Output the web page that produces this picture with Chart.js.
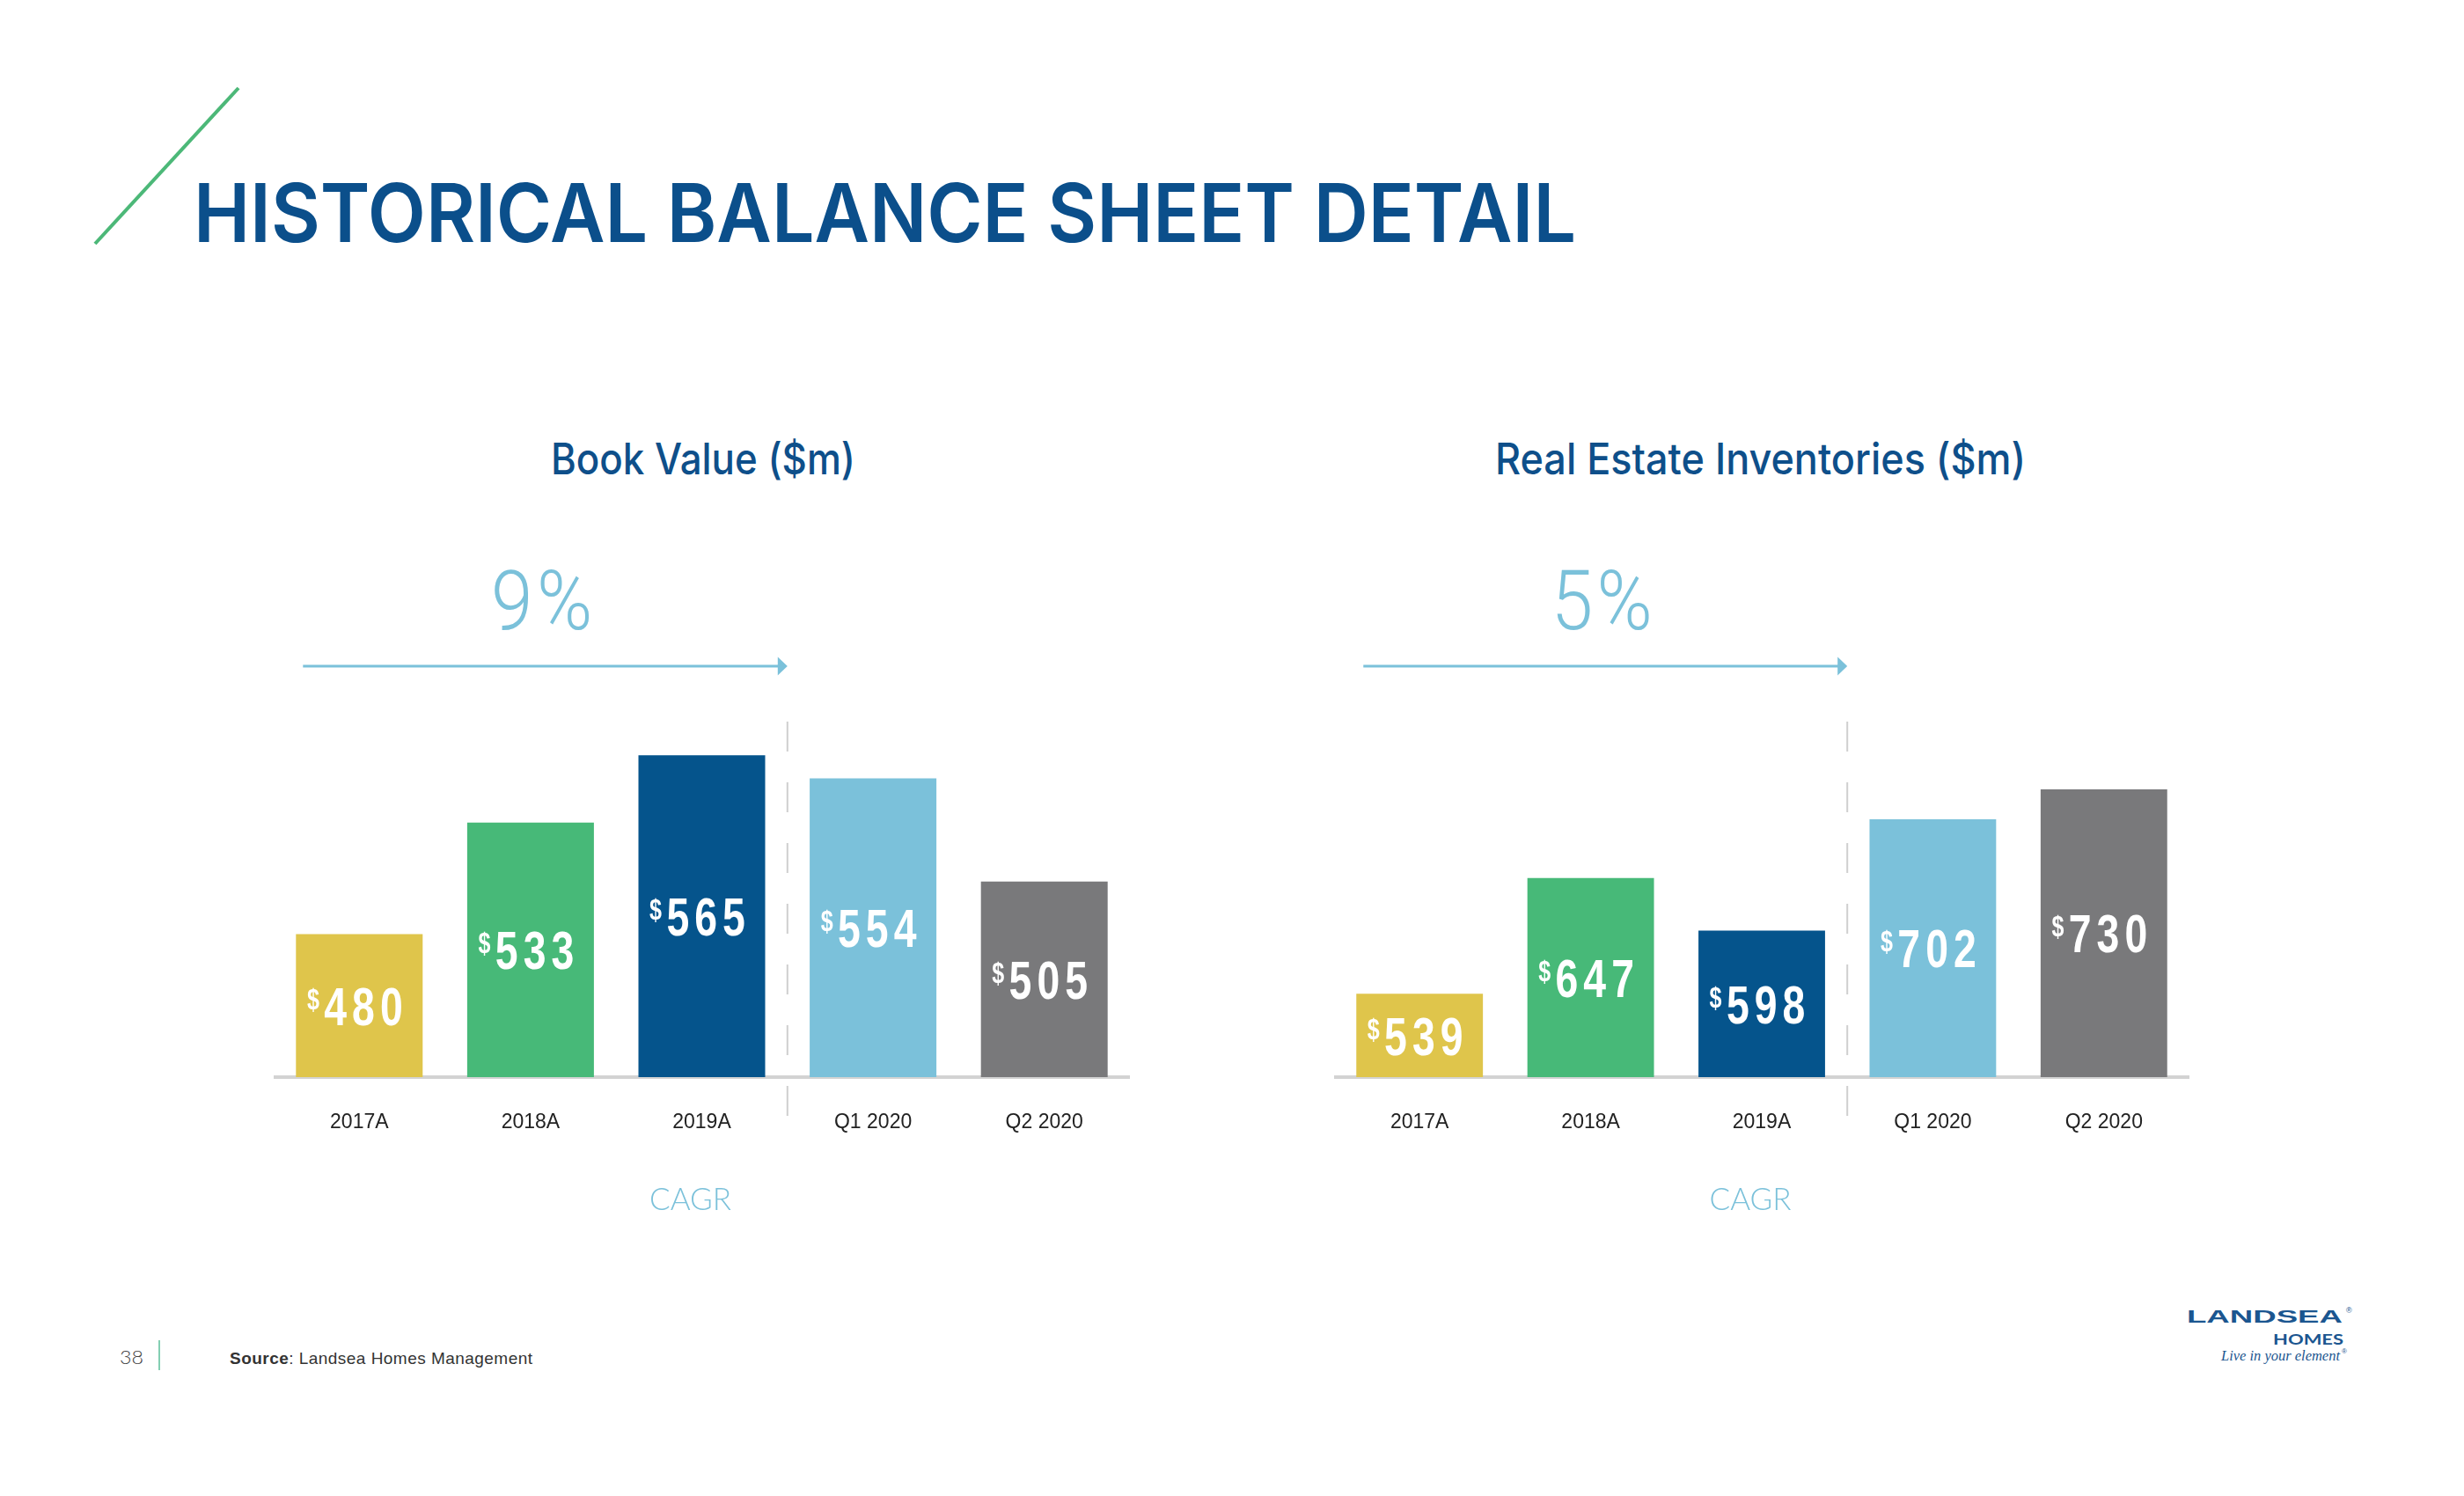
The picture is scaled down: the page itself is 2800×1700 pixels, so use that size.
<!DOCTYPE html>
<html><head><meta charset="utf-8">
<script src="https://cdn.jsdelivr.net/npm/chart.js@4/dist/chart.umd.min.js"></script>
<style>
html,body{margin:0;padding:0;background:#fff;}
#page{position:relative;width:2800px;height:1700px;background:#fff;overflow:hidden;}
#page svg{position:absolute;left:0;top:0;}
#page canvas{position:absolute;}
</style></head><body>
<div id="page">
<svg width="2800" height="1700" xmlns="http://www.w3.org/2000/svg">
  <line x1="108" y1="277" x2="271" y2="100" stroke="#4cb878" stroke-width="4"/>
  <text x="220" y="275" font-family="Inter" font-weight="600" font-size="92" fill="#0b4f8b" textLength="1571" lengthAdjust="spacingAndGlyphs">HISTORICAL BALANCE SHEET DETAIL</text>
  <text x="626" y="539" font-family="Inter" font-weight="500" font-size="49" fill="#0e4f8a" textLength="346" lengthAdjust="spacingAndGlyphs">Book Value ($m)</text>
  <text x="1699" y="539" font-family="Inter" font-weight="500" font-size="49" fill="#0e4f8a" textLength="603" lengthAdjust="spacingAndGlyphs">Real Estate Inventories ($m)</text>
  <text x="136" y="1550" font-family="Lato" font-weight="300" font-size="21" fill="#444" textLength="27" lengthAdjust="spacingAndGlyphs">38</text>
  <line x1="181" y1="1523" x2="181" y2="1557" stroke="#5bbf9a" stroke-width="1.5"/>
  <text x="261" y="1550" font-family="Liberation Sans" font-size="19" fill="#333" textLength="344" lengthAdjust="spacing"><tspan font-weight="700">Source</tspan>: Landsea Homes Management</text>
  <text x="2485" y="1503" font-family="Liberation Sans" font-weight="900" font-size="21" fill="#1b5690" textLength="177" lengthAdjust="spacingAndGlyphs">LANDSEA</text>
  <text x="2666" y="1492" font-family="Liberation Sans" font-size="9" fill="#1b5690">®</text>
  <text x="2583" y="1528" font-family="Lato" font-weight="700" font-size="17" fill="#1b5690" textLength="80" lengthAdjust="spacingAndGlyphs">HOMES</text>
  <text x="2524" y="1546" font-family="Liberation Serif" font-style="italic" font-size="17" fill="#1b5690" textLength="135" lengthAdjust="spacingAndGlyphs">Live in your element</text>
  <text x="2661" y="1538" font-family="Liberation Sans" font-size="8" fill="#1b5690">®</text>
</svg>
<canvas id="c1" width="973" height="800" style="left:311px;top:600px"></canvas>
<canvas id="c2" width="972" height="800" style="left:1516px;top:600px"></canvas>
</div>
<script>
// ---- data ----
const categories = ['2017A', '2018A', '2019A', 'Q1 2020', 'Q2 2020'];
const bookValue = [480, 533, 565, 554, 505];
const realEstateInventories = [539, 647, 598, 702, 730];
const cagrBook = '9%';
const cagrInventories = '5%';
const cagrLabel = 'CAGR';
const barColors = ['#dfc54b', '#47b978', '#05548c', '#7bc1da', '#79797b'];

function drawValue(ctx, v, cx, cy) {
  const sx = 0.76, sp = 8, gap = 7;
  const numFont = 'bold 61px "Liberation Sans", Arial, sans-serif';
  const dolFont = 'bold 33px "Liberation Sans", Arial, sans-serif';
  const digits = String(v);
  ctx.save();
  ctx.font = numFont;
  const numW = ctx.measureText(digits).width + sp * (digits.length - 1);
  ctx.font = dolFont;
  const dW = ctx.measureText('$').width;
  const total = (dW + gap + numW) * sx;
  const baseline = cy + 22;
  ctx.setTransform(1, 0, 0, 1, 0, 0);
  ctx.translate(cx - total / 2, baseline);
  ctx.scale(sx, 1);
  ctx.globalAlpha = 1;
  ctx.fillStyle = '#ffffff';
  ctx.textBaseline = 'alphabetic';
  ctx.textAlign = 'left';
  ctx.fillText('$', 0, -18);
  ctx.font = numFont;
  let x = dW + gap;
  for (const ch of digits) {
    ctx.fillText(ch, x, 0);
    x += ctx.measureText(ch).width + sp;
  }
  ctx.restore();
}

function annotPlugin(cagr) {
  return {
    id: 'annot',
    afterDraw(chart) {
      const ctx = chart.ctx, xs = chart.scales.x, ys = chart.scales.y, area = chart.chartArea;
      const meta = chart.getDatasetMeta(0);
      const data = chart.data.datasets[0].data;
      const basePx = ys.getPixelForValue(ys.min);
      meta.data.forEach((bar, i) => {
        const topPx = ys.getPixelForValue(data[i]);
        drawValue(ctx, data[i], xs.getPixelForValue(i) - 5, (topPx + basePx) / 2);
      });
      const sepX = (xs.getPixelForValue(2) + xs.getPixelForValue(3)) / 2;
      ctx.save();
      ctx.strokeStyle = '#cfcfcf';
      ctx.lineWidth = 2;
      ctx.setLineDash([34, 35]);
      ctx.beginPath();
      ctx.moveTo(sepX, area.top + 20);
      ctx.lineTo(sepX, area.bottom + 44);
      ctx.stroke();
      ctx.restore();

      const b0w = meta.data[0].width;
      const x0 = xs.getPixelForValue(0) - b0w / 2 + 8;
      const ay = area.top - 43;
      ctx.save();
      ctx.strokeStyle = '#7bc1da';
      ctx.fillStyle = '#7bc1da';
      ctx.lineWidth = 3;
      ctx.beginPath(); ctx.moveTo(x0, ay); ctx.lineTo(sepX - 8, ay); ctx.stroke();
      ctx.beginPath(); ctx.moveTo(sepX - 11, ay - 10.5); ctx.lineTo(sepX, ay); ctx.lineTo(sepX - 11, ay + 10.5); ctx.closePath(); ctx.fill();

      ctx.font = '300 95px Roboto, "Liberation Sans", sans-serif';
      ctx.textBaseline = 'alphabetic';
      ctx.textAlign = 'left';
      const w9 = ctx.measureText(cagr[0]).width + 5 + ctx.measureText(cagr.slice(1)).width;
      const sx = 0.9;
      const pcx = (x0 + sepX) / 2 - 4;
      ctx.save();
      ctx.translate(pcx - w9 * sx / 2, area.top - 85);
      ctx.scale(sx, 1);
      ctx.fillText(cagr[0], 0, 0);
      ctx.fillText(cagr.slice(1), ctx.measureText(cagr[0]).width + 5, 0);
      ctx.restore();

      ctx.font = '300 35px Lato, "Liberation Sans", sans-serif';
      ctx.textAlign = 'center';
      ctx.fillText(cagrLabel, xs.getPixelForValue(2) - 13, area.bottom + 151);
      ctx.restore();
    }
  };
}

function makeChart(id, values, yMin, yMax, cagr) {
  return new Chart(document.getElementById(id), {
    type: 'bar',
    data: {
      labels: categories,
      datasets: [{ data: values, backgroundColor: barColors, borderWidth: 0, barPercentage: 0.74, categoryPercentage: 1 }]
    },
    options: {
      responsive: false, animation: false, devicePixelRatio: 1,
      layout: { padding: { top: 200, left: 0, right: 0, bottom: 0 } },
      plugins: { legend: { display: false }, tooltip: { enabled: false }, title: { display: false } },
      scales: {
        x: {
          grid: { display: false, drawTicks: false },
          border: { display: true, color: '#d3d3d3', width: 4 },
          ticks: { color: '#222', font: { family: '"Liberation Sans", Arial, sans-serif', size: 23 }, padding: 38, maxRotation: 0, autoSkip: false },
          afterFit(s) { s.height = 176; }
        },
        y: { display: false, min: yMin, max: yMax }
      }
    },
    plugins: [annotPlugin(cagr)]
  });
}

makeChart('c1', bookValue, 412, 589.4, cagrBook);
makeChart('c2', realEstateInventories, 461, 809.7, cagrInventories);
</script>
</body></html>
